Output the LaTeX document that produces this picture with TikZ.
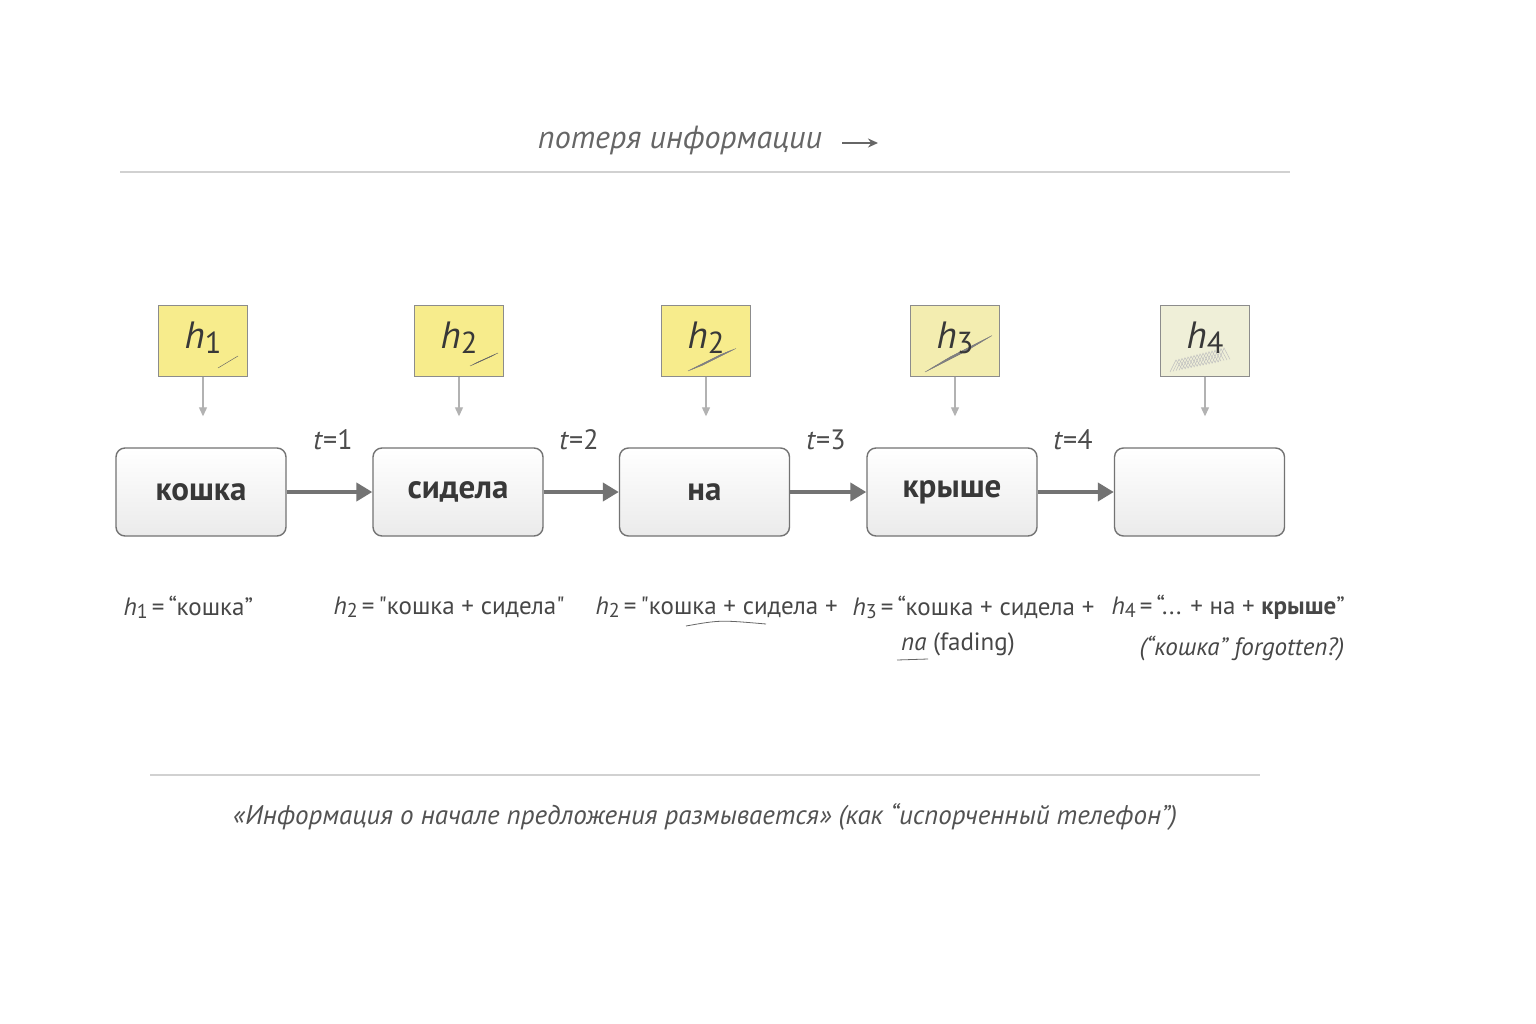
\documentclass[tikz,border=0pt]{standalone}
\usepackage{fontspec}
\setmainfont{PT Sans}
\usetikzlibrary{arrows.meta}
\definecolor{ny}{HTML}{F7EC8C}
\definecolor{ny3}{HTML}{F3EDB0}
\definecolor{ny4}{HTML}{EFEFD8}
\newcommand{\hv}[1]{\textit{h}\raisebox{-0.25ex}{\scalebox{0.8}{#1}}}
\newcommand{\eq}{\,=\,}
\begin{document}
\begin{tikzpicture}[x=1pt,y=-1pt,
  word/.style={draw=black!55,line width=1.4pt,rounded corners=9pt,minimum width=170pt,minimum height=88pt,
    top color=white,bottom color=black!8,font=\fontsize{33}{33}\selectfont\bfseries,text=black!78},
  note/.style={draw=black!45,line width=0.8pt,minimum width=89pt,minimum height=71pt,inner sep=0pt},
  flow/.style={draw=black!55,line width=4pt,-{Triangle[length=16pt,width=18pt]}},
  down/.style={draw=black!30,line width=1.2pt,-{Triangle[length=9pt,width=8pt]}},
  tl/.style={font=\fontsize{28}{28}\selectfont,text=black!70},
  lab/.style={font=\fontsize{25}{25}\selectfont,text=black!72,anchor=west},
  hh/.style={font=\fontsize{38}{38}\selectfont,text=black!78},
  scrib/.style={draw=black!60,line width=0.5pt}]
\useasboundingbox[fill=white] (0,0) rectangle (1536,1024);
% header
\node[font=\fontsize{32}{32}\selectfont\itshape,text=black!60] (top) at (680,141) {потеря информации};
\coordinate (ta) at (842,143); \coordinate (tb) at (878,143);
\draw[black!60,line width=2pt,-{Stealth[length=10pt,width=9pt]}] (ta) -- (tb);
\coordinate (l1a) at (120,172); \coordinate (l1b) at (1290,172);
\draw[black!18,line width=1.2pt] (l1a) -- (l1b);
% words
\node[word] (w1) at (201,492) {кошка};
\node[word] (w2) at (458,492) {сидела};
\node[word] (w3) at (704.5,492) {на};
\node[word] (w4) at (952,492) {крыше};
\node[word] (w5) at (1199.5,492) {};
\foreach \a/\b in {w1/w2,w2/w3,w3/w4,w4/w5} \draw[flow] (\a) -- (\b);
\node[tl] (t1) at (333,440) {\textit{t}=1};
\node[tl] (t2) at (579,440) {\textit{t}=2};
\node[tl] (t3) at (826,440) {\textit{t}=3};
\node[tl] (t4) at (1073,440) {\textit{t}=4};
% notes
\node[note,fill=ny] (n1) at (203,341) {};
\node[note,fill=ny] (n2) at (459,341) {};
\node[note,fill=ny] (n3) at (706,341) {};
\node[note,fill=ny3] (n4) at (955,341) {};
\node[note,fill=ny4] (n5) at (1205,341) {};
% scribbles
\draw[scrib] (218,368) -- (238,356);
\foreach \i in {0,3,6} \draw[scrib] (470+\i,366-\i*0.5) -- (492+\i,356-\i*0.5);
\foreach \i in {0,2,...,14} \draw[scrib,black!50] (688+\i,371-\i*0.4) -- (722+\i,354-\i*0.4);
\foreach \i in {0,2,...,24} \draw[scrib,black!50] (925+\i,372-\i*0.6) -- (968+\i,350-\i*0.6);
\foreach \i in {0,3,...,48} \draw[scrib,black!25] (1170+\i,372-\i*0.2) -- (1176+\i,360-\i*0.25) -- (1182+\i,369-\i*0.2);
\foreach \n/\s in {n1/1,n2/2,n3/2,n4/3,n5/4}
  \node[hh] at ([yshift=3pt]\n) {\hv{\s}};
\foreach \n/\w in {n1/w1,n2/w2,n3/w3,n4/w4,n5/w5} \draw[down] (\n.south) -- ([yshift=31pt]\n.south |- \w.north);
% labels
\node[lab] (b1) at (120,607) {\hv{1}\eq“кошка”};
\node[lab] (b2) at (330,607) {\hv{2}\eq\textquotedbl кошка + сидела\textquotedbl};
\node[lab] (b3) at (592,607) {\hv{2}\eq\textquotedbl кошка + сидела +};
\node[lab] (b4) at (849,607) {\hv{3}\eq“кошка + сидела +};
\node[lab] (b5) at (1108,607) {\hv{4}\eq“... + на + \textbf{крыше}”};
\node[font=\fontsize{25}{25}\selectfont,text=black!72] (c4) at (958,644) {\textit{na} (fading)};
\node[font=\fontsize{25}{25}\selectfont\itshape,text=black!72] (c5) at (1242,649) {(“кошка” forgotten?)};
\coordinate (u1) at (686,626); \coordinate (u2) at (766,624);
\draw[black!60,line width=0.8pt] (u1) .. controls (720,620) .. (u2);
\coordinate (u3) at (897,660); \coordinate (u4) at (928,659);
\draw[black!60,line width=0.8pt] (u3) -- (u4);
% bottom
\coordinate (l2a) at (150,775); \coordinate (l2b) at (1260,775);
\draw[black!18,line width=1.2pt] (l2a) -- (l2b);
\node[font=\fontsize{27}{27}\selectfont\itshape,text=black!68] (q) at (705,817) {«Информация о начале предложения размывается» (как “испорченный телефон”)};
\end{tikzpicture}
\end{document}
